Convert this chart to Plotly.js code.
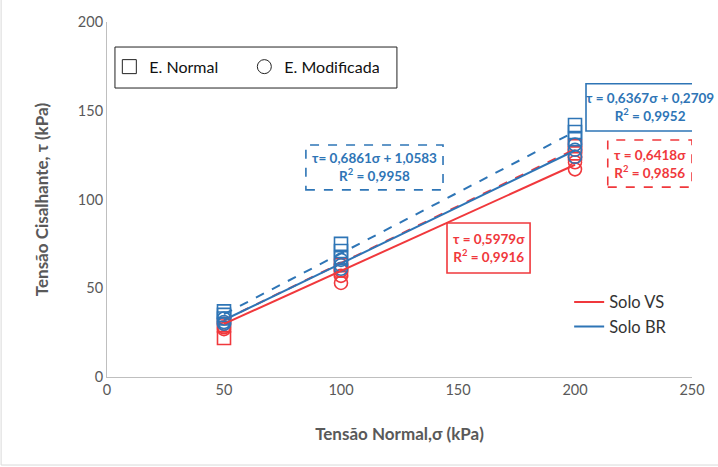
<!DOCTYPE html>
<html>
<head>
<meta charset="utf-8">
<script src="https://cdn.plot.ly/plotly-3.0.1.min.js"></script>
<style>html,body{margin:0;padding:0;background:#fff;}#chart{width:718px;height:467px;}</style>
</head>
<body>
<div id="chart"></div>
<script>
// ---- data ----
const sigmaLevels = [50, 100, 200];
const brNormal     = [[37, 35, 33], [75, 71, 67], [142, 138, 134]];   // blue squares
const brModificada = [[33, 31, 30], [66, 63, 61], [131, 128, 124]];   // blue circles
const vsNormal     = [[29, 22], [63, 60], [130, 126]];                 // red squares
const vsModificada = [[30, 28, 27], [60, 57, 53], [124, 121, 117]];   // red circles

const fitVS_solid  = {slope: 0.5979, intercept: 0,      label: 'τ = 0,5979σ',          r2: '0,9916'};
const fitBR_solid  = {slope: 0.6367, intercept: 0.2709, label: 'τ = 0,6367σ + 0,2709', r2: '0,9952'};
const fitBR_dash   = {slope: 0.6861, intercept: 1.0583, label: 'τ= 0,6861σ + 1,0583',  r2: '0,9958'};
const fitVS_dash   = {slope: 0.6418, intercept: 0,      label: 'τ = 0,6418σ',          r2: '0,9856'};
const fitRange = [50, 200];

const xTicks = [0, 50, 100, 150, 200, 250];
const yTicks = [0, 50, 100, 150, 200];

// ---- style ----
const RED = '#F0383C';
const BLUE = '#2E75B6';
const GREY = '#595959';
const FONT = 'Lato, "Open Sans", sans-serif';

function flatten(levels, groups) {
  const xs = [], ys = [];
  groups.forEach((g, i) => g.forEach(v => { xs.push(levels[i]); ys.push(v); }));
  return {x: xs, y: ys};
}
function fitLine(f) {
  return {x: fitRange, y: fitRange.map(s => f.slope * s + f.intercept)};
}

const traces = [];
function markerTrace(groups, color, symbol) {
  const d = flatten(sigmaLevels, groups);
  return {x: d.x, y: d.y, type: 'scatter', mode: 'markers', showlegend: false, hoverinfo: 'skip',
    marker: {symbol: symbol, size: 13, color: color, line: {color: color, width: 1.6}}};
}
traces.push(markerTrace(vsNormal, RED, 'square-open'));
traces.push(markerTrace(vsModificada, RED, 'circle-open'));
traces.push(markerTrace(brNormal, BLUE, 'square-open'));
traces.push(markerTrace(brModificada, BLUE, 'circle-open'));

function lineTrace(f, color, dash, name, legend) {
  const d = fitLine(f);
  return {x: d.x, y: d.y, type: 'scatter', mode: 'lines', name: name || '', showlegend: !!name,
    legend: legend || 'legend', hoverinfo: 'skip', line: {color: color, width: 2, dash: dash}};
}
traces.push(lineTrace(fitBR_dash, BLUE, 'dash'));
traces.push(lineTrace(fitVS_dash, RED, 'dash'));
traces.push(lineTrace(fitVS_solid, RED, 'solid', 'Solo VS', 'legend2'));
traces.push(lineTrace(fitBR_solid, BLUE, 'solid', 'Solo BR', 'legend2'));

// legend entries for test types
traces.push({x: [null], y: [null], type: 'scatter', mode: 'markers', name: 'E. Normal', legend: 'legend',
  marker: {symbol: 'square-open', size: 14, color: '#222', line: {color: '#222', width: 1}}});
traces.push({x: [null], y: [null], type: 'scatter', mode: 'markers', name: 'E. Modificada', legend: 'legend',
  marker: {symbol: 'circle-open', size: 14, color: '#222', line: {color: '#222', width: 1}}});

// equation boxes (data coords)
const boxes = [
  {fit: fitBR_dash,  color: BLUE, dash: 'dash',  x0: 85,    x1: 143.6, y0: 105.4, y1: 130.7},
  {fit: fitVS_solid, color: RED,  dash: 'solid', x0: 145.3, x1: 180.8, y0: 58.6,  y1: 86.8},
  {fit: fitBR_solid, color: BLUE, dash: 'solid', x0: 204.7, x1: 275,   y0: 138.6, y1: 165.2},
  {fit: fitVS_dash,  color: RED,  dash: 'dash',  x0: 214,   x1: 250,   y0: 107,   y1: 133.5}
];
const shapes = [];
const annotations = [];
boxes.forEach(b => {
  shapes.push({type: 'rect', xref: 'x', yref: 'y', x0: b.x0, x1: b.x1, y0: b.y0, y1: b.y1,
    line: {color: b.color, width: 1.6, dash: b.dash}, fillcolor: 'rgba(255,255,255,1)', layer: 'above'});
  const cx = b.x1 > 250 ? b.x0 + 27.5 : (b.x0 + b.x1) / 2;
  annotations.push({xref: 'x', yref: 'y', x: cx, y: (b.y0 + b.y1) / 2, showarrow: false,
    text: '<b>' + b.fit.label + '<br>R<sup>2</sup> = ' + b.fit.r2 + '</b>',
    font: {family: FONT, size: 13.5, color: b.color}, align: 'center'});
});
// legend frame for test types
shapes.push({type: 'rect', xref: 'x', yref: 'y', x0: 3.4, x1: 123.9, y0: 162.8, y1: 185.9,
  line: {color: '#222', width: 1}, fillcolor: '#fff', layer: 'below'});
// outer frame
shapes.push({type: 'rect', xref: 'paper', yref: 'paper', x0: -0.181, x1: 1.2, y0: -0.248, y1: 1.2,
  line: {color: '#D9D9D9', width: 1}, layer: 'below'});

const layout = {
  width: 718, height: 467,
  margin: {l: 107, r: 26, t: 22, b: 90},
  paper_bgcolor: '#fff', plot_bgcolor: 'rgba(0,0,0,0)',
  font: {family: FONT, color: GREY},
  xaxis: {range: [0, 250], tickvals: xTicks, ticktext: xTicks.map(String), showgrid: false, zeroline: false,
    showline: true, linecolor: '#BFBFBF', linewidth: 1, ticks: '', tickfont: {size: 14.5, color: GREY},
    title: {text: '<b>Tensão Normal,σ (kPa)</b>', font: {size: 17, color: GREY}, standoff: 30}},
  yaxis: {range: [0, 200], tickvals: yTicks, ticktext: yTicks.map(String), showgrid: false, zeroline: false,
    showline: true, linecolor: '#BFBFBF', linewidth: 1, ticks: '', tickfont: {size: 14.5, color: GREY},
    title: {text: '<b>Tensão Cisalhante, τ (kPa)</b>', font: {size: 17, color: GREY}, standoff: 24}},
  legend: {orientation: 'h', x: 0.004, y: 0.874, xanchor: 'left', yanchor: 'middle',
    bgcolor: 'rgba(0,0,0,0)', font: {size: 16, color: '#111'},
    entrywidth: 90, itemwidth: 30, tracegroupgap: 0},
  legend2: {orientation: 'v', x: 0.79, y: 0.26, xanchor: 'left', yanchor: 'top',
    bgcolor: 'rgba(0,0,0,0)', font: {size: 16.5, color: '#333'}, itemwidth: 30},
  shapes: shapes,
  annotations: annotations
};

Plotly.newPlot('chart', traces, layout, {displayModeBar: false, staticPlot: true});
</script>
</body>
</html>
